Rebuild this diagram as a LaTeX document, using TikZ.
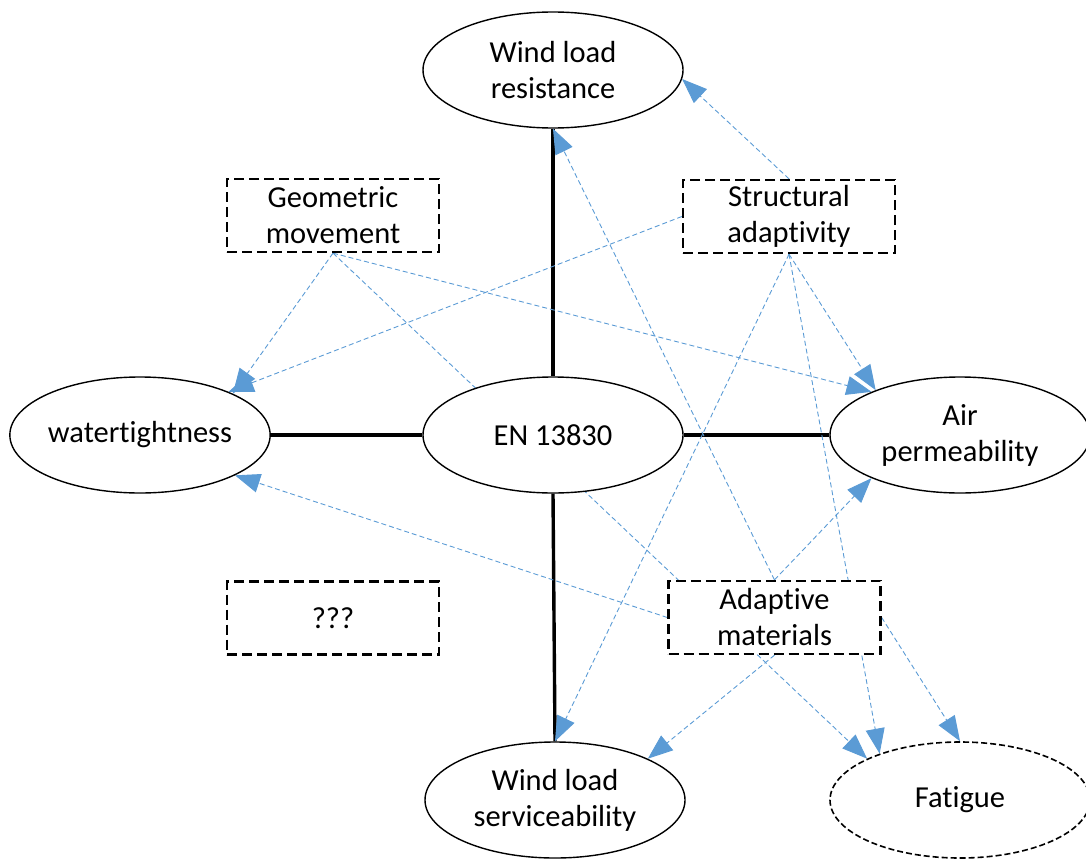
\documentclass[tikz,border=0pt]{standalone}
\usepackage{fontspec}
\setmainfont{Carlito}[Ligatures={NoCommon}]
\usetikzlibrary{shapes.geometric,arrows.meta}
\pgfdeclarelayer{background}
\pgfsetlayers{background,main}
\definecolor{relblue}{RGB}{91,155,213}
\tikzset{
  ell/.style={ellipse, draw=black, line width=1.4pt, fill=white, minimum width=260pt, minimum height=116pt, inner sep=0pt, align=center, font=\fontsize{30.5}{36}\selectfont},
  dell/.style={ell, line width=1.6pt, dash pattern=on 6pt off 3pt},
  dbox/.style={rectangle, draw=black, line width=2.3pt, dash pattern=on 10pt off 5pt, fill=white, minimum width=212pt, minimum height=73pt, inner sep=0pt, align=center, font=\fontsize{30.5}{36}\selectfont},
  rel/.style={draw=relblue, line width=0.9pt, dash pattern=on 5pt off 3pt, -{Triangle[length=25pt,width=19pt]}},
  std/.style={draw=black, line width=3.4pt}
}
\begin{document}
\begin{tikzpicture}[x=1pt,y=-1pt]
\useasboundingbox (0,0) rectangle (1086,859);
\node[ell] (wlr) at (553,70) {Wind load\\resistance};
\node[ell] (en) at (553,435) {EN 13830};
\node[ell] (wt) at (140,435) {watertightness};
\node[ell] (air) at (960,435) {Air\\permeability};
\node[ell] (wls) at (555,800) {Wind load\\serviceability};
\node[dell] (fat) at (960,800) {Fatigue};
\node[dbox] (geo) at (333,215.5) {Geometric\\movement};
\node[dbox] (sa) at (789,216.5) {Structural\\adaptivity};
\node[dbox] (q) at (333,618) {???};
\node[dbox] (am) at (774.5,617.5) {Adaptive\\materials};
\begin{pgfonlayer}{background}
\draw[std] (en.north) -- (wlr.south);
\draw[std] (en.west) -- (wt.east);
\draw[std] (en.east) -- (air.west);
\draw[std] (en.south) -- (wls.north);
\draw[rel] (geo.south) -- (wt.24);
\draw[rel] (geo.south) -- (air.154);
\draw[rel] (geo.south) -- (fat.156);
\draw[rel] (sa.west) -- (wt.26);
\draw[rel] (sa.north) -- (wlr.-4);
\draw[rel] (sa.south) -- (wls.north);
\draw[rel] (sa.south) -- (air.152);
\draw[rel] (sa.south) -- (fat.150);
\draw[rel] (am.west) -- (wt.-23);
\draw[rel] (am.north) -- (wlr.south);
\draw[rel] (am.north) -- (air.206);
\draw[rel] (am.south) -- (wls.24);
\draw[rel] (am.east) -- (fat.north);
\end{pgfonlayer}
\end{tikzpicture}
\end{document}
